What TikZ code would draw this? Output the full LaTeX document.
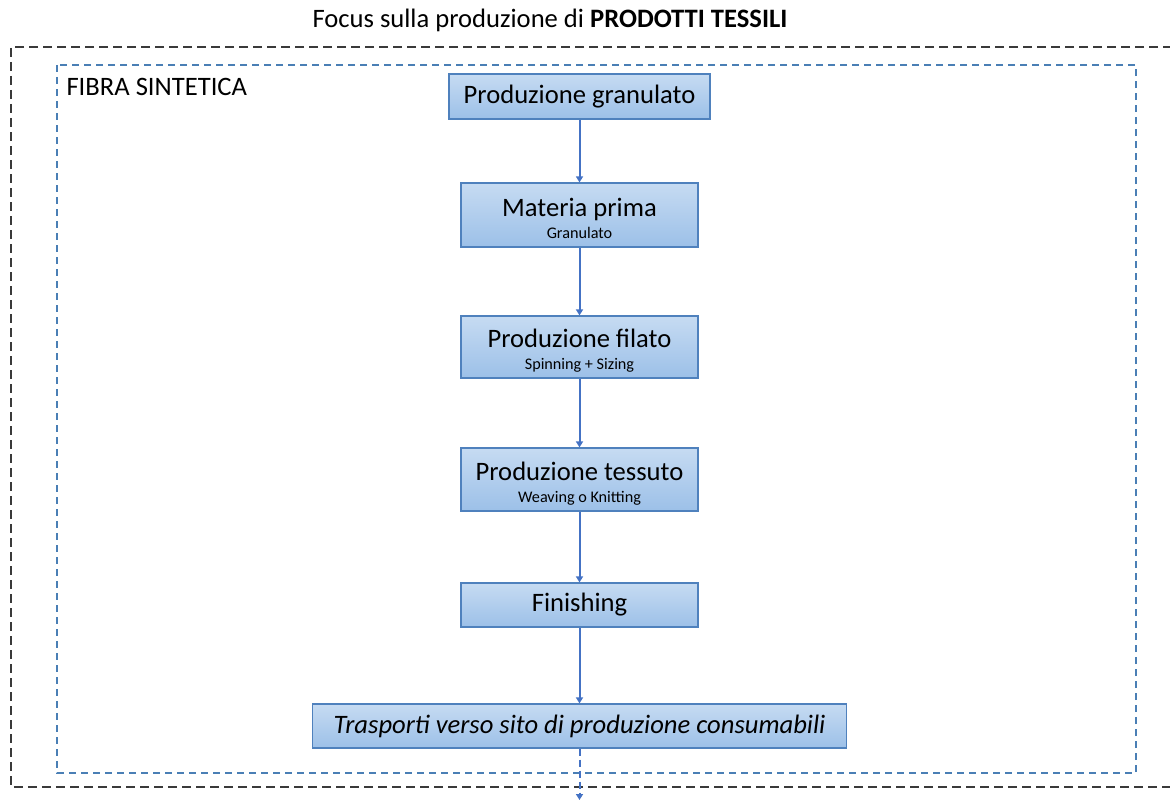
\documentclass[tikz,border=0pt]{standalone}
\usepackage{fontspec}
\setmainfont{Carlito}
\usetikzlibrary{arrows.meta}
\definecolor{boxtop}{HTML}{C6DBF2}
\definecolor{boxbot}{HTML}{9CC0E8}
\definecolor{boxline}{HTML}{4F81BD}
\definecolor{arrowc}{HTML}{4472C4}
\definecolor{innerc}{HTML}{4A7FB5}
\definecolor{outerc}{HTML}{3A3A3A}
\tikzset{
  procbox/.style={draw=boxline, line width=1.2pt, top color=boxtop, bottom color=boxbot,
    rectangle, inner sep=0pt, align=center, text=black, font=\fontsize{26.6}{28}\selectfont},
  flow/.style={draw=arrowc, line width=2pt, -{Triangle[width=7pt,length=6pt]}},
}
\newcommand{\subtxt}[1]{{\fontsize{16.2}{17}\selectfont #1}}
\newcommand{\topstrut}{\rule{0pt}{26pt}}
\begin{document}
\begin{tikzpicture}[x=1pt,y=-1pt]
\useasboundingbox (0,0) rectangle (1170,800);
% outer dashed frame
\draw[outerc, line width=1.4pt, dash pattern=on 9pt off 5pt] (1172,47) -- (11,47) -- (11,787) -- (1172,787);
% inner dashed frame
\draw[innerc, line width=1.4pt, dash pattern=on 7pt off 5pt] (57,65) rectangle (1136,773);
% title
\node[font=\fontsize{26.6}{28}\selectfont, anchor=center] (title) at (550,20) {Focus sulla produzione di \textbf{PRODOTTI TESSILI}};
\node[font=\fontsize{26.6}{28}\selectfont, anchor=west] (fibra) at (63,87) {FIBRA SINTETICA};
% boxes
\node[procbox, minimum width=261pt, minimum height=45pt] (b1) at (579.5,96.5) {Produzione granulato};
\node[procbox, minimum width=237pt, minimum height=64pt] (b2) at (579.5,215) {\topstrut Materia prima\\[-6pt]\subtxt{Granulato}};
\node[procbox, minimum width=237pt, minimum height=62pt] (b3) at (579.5,347) {\topstrut Produzione filato\\[-6pt]\subtxt{Spinning + Sizing}};
\node[procbox, minimum width=237pt, minimum height=63pt] (b4) at (579.5,479.5) {\topstrut Produzione tessuto\\[-6pt]\subtxt{Weaving o Knitting}};
\node[procbox, minimum width=237pt, minimum height=44pt] (b5) at (579.5,605) {Finishing};
\node[procbox, minimum width=534pt, minimum height=44pt, font=\fontsize{26.6}{28}\selectfont\itshape] (b6) at (579.5,726) {Trasporti verso sito di produzione consumabili};
\coordinate (out) at (579.5,800);
% connectors
\draw[flow] (b1) -- (b2);
\draw[flow] (b2) -- (b3);
\draw[flow] (b3) -- (b4);
\draw[flow] (b4) -- (b5);
\draw[flow] (b5) -- (b6);
\draw[flow, dash pattern=on 7pt off 4pt] (b6) -- (out);
\end{tikzpicture}
\end{document}
